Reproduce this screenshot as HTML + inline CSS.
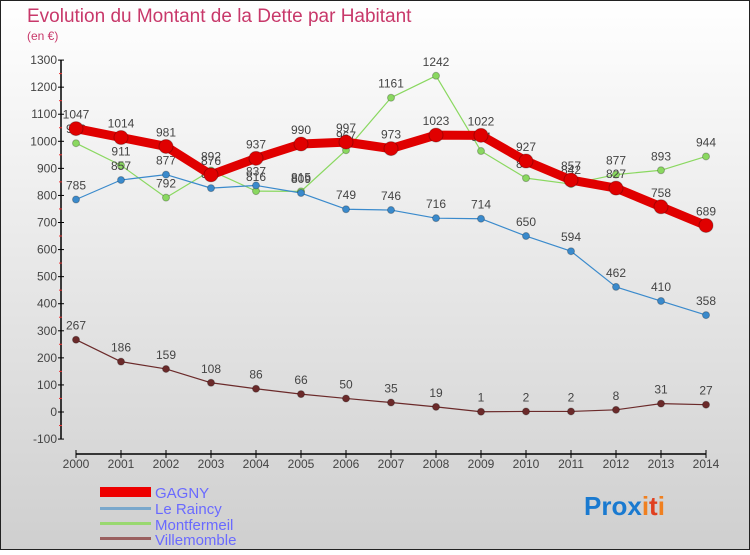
<!DOCTYPE html>
<html><head><meta charset="utf-8"><style>
body{margin:0;width:750px;height:550px;overflow:hidden;font-family:"Liberation Sans",sans-serif}
</style></head><body>
<svg id="chart" width="750" height="550" xmlns="http://www.w3.org/2000/svg">
<defs><linearGradient id="bg" x1="0" y1="0" x2="0" y2="1"><stop offset="0" stop-color="#ffffff"/><stop offset="1" stop-color="#cfcfcf"/></linearGradient></defs>
<rect x="0.5" y="0.5" width="749" height="549" fill="url(#bg)" stroke="#222"/>
<text x="27" y="22" font-size="19" fill="#c8386a">Evolution du Montant de la Dette par Habitant</text>
<text x="27" y="40" font-size="12" fill="#c8386a">(en €)</text>
<g id="axes"></g><g id="series"></g>
<g font-size="15" fill="#6a6aff">
<rect x="100" y="487" width="51" height="10" fill="#e00"/>
<text x="155" y="498">GAGNY</text>
<rect x="100" y="507" width="51" height="3" fill="#7aa8cc"/>
<text x="155" y="514">Le Raincy</text>
<rect x="100" y="522" width="51" height="3" fill="#99d870"/>
<text x="155" y="530">Montfermeil</text>
<rect x="100" y="537" width="51" height="3" fill="#9a6060"/>
<text x="155" y="545">Villemomble</text>
</g>
<text x="584" y="515" font-size="26" font-weight="bold"><tspan fill="#1a7ad0">Pro</tspan><tspan fill="#1a7ad0">x</tspan><tspan fill="#f08020">i</tspan><tspan fill="#e04020">t</tspan><tspan fill="#f08020">i</tspan></text>
</svg>
<script>
const years=[2000,2001,2002,2003,2004,2005,2006,2007,2008,2009,2010,2011,2012,2013,2014];
const gagny=[1047,1014,981,876,937,990,997,973,1023,1022,927,857,827,758,689];
const leRaincy=[785,857,877,827,837,809,749,746,716,714,650,594,462,410,358];
const montfermeil=[993,911,792,892,816,815,967,1161,1242,964,864,842,877,893,944];
const villemomble=[267,186,159,108,86,66,50,35,19,1,2,2,8,31,27];
const yTicks=[-100,0,100,200,300,400,500,600,700,800,900,1000,1100,1200,1300];
const NS='http://www.w3.org/2000/svg';
const X=i=>76+i*45, Y=v=>412-v*0.2707;
function mk(t,a,p){const e=document.createElementNS(NS,t);for(const k in a)e.setAttribute(k,a[k]);p.appendChild(e);return e;}
const ax=document.getElementById('axes');
const ya=mk('line',{x1:61,y1:Y(1300),x2:61,y2:Y(-100),stroke:'#000','stroke-width':1.5},ax);


const xa=mk('line',{x1:76,y1:454,x2:706,y2:454,stroke:'#000','stroke-width':1.5},ax);


yTicks.forEach(v=>{const y=Y(v);
mk('line',{x1:58,y1:y,x2:64,y2:y,stroke:'#000'},ax);
if(v>-100)mk('line',{x1:59,y1:y+13.5,x2:62,y2:y+13.5,stroke:'#e33'},ax);
const t=mk('text',{x:57,y:y+4,'font-size':12,'text-anchor':'end',fill:'#444'},ax);t.textContent=v;

});
years.forEach((yr,i)=>{mk('line',{x1:X(i),y1:450,x2:X(i),y2:458,stroke:'#000'},ax);
const t=mk('text',{x:X(i),y:468,'font-size':12,'text-anchor':'middle',fill:'#444'},ax);t.textContent=yr;

});
const sg=document.getElementById('series');
function draw(name,vals,color,w,r){const g=mk('g',{},sg);


mk('polyline',{points:vals.map((v,i)=>X(i)+','+Y(v)).join(' '),fill:'none',stroke:color,'stroke-width':w,'stroke-linejoin':'round'},g);
vals.forEach((v,i)=>{const c=mk('circle',{cx:X(i),cy:Y(v),r:r,fill:color,stroke:'rgba(0,0,0,0.25)'},g);


const t=mk('text',{x:X(i),y:Y(v)-10,'font-size':12,'text-anchor':'middle',fill:'#444'},g);t.textContent=v;

});}
draw('villemomble',villemomble,'#6b2a2a',1.2,3.5);
draw('montfermeil',montfermeil,'#8ad860',1.2,3.5);
draw('le-raincy',leRaincy,'#3a8acc',1.2,3.5);
draw('gagny',gagny,'#e00000',9,7);
</script>
</body></html>
